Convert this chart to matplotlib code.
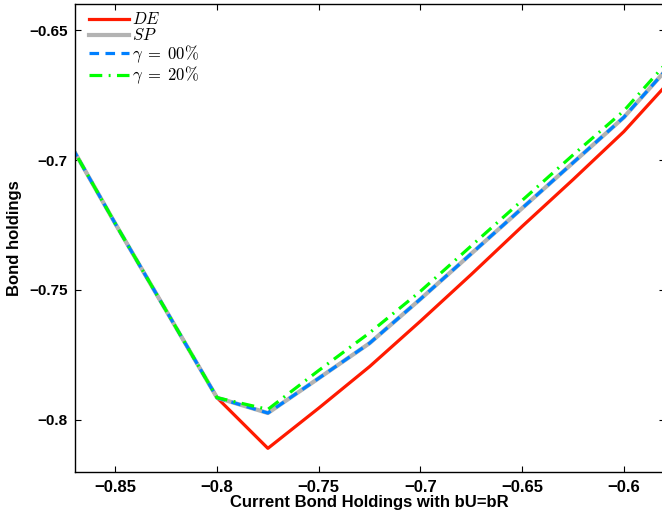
import matplotlib
matplotlib.use("Agg")
import matplotlib.pyplot as plt

plt.rcParams['font.family'] = ['Liberation Sans', 'DejaVu Sans']
plt.rcParams['mathtext.fontset'] = 'cm'

# Current bond holdings grid
x_left = [-0.875, -0.85, -0.825, -0.8]
x_right = [-0.775, -0.75, -0.725, -0.7, -0.675, -0.65, -0.625, -0.6, -0.575]

# Shared branch left of the kink
y_left = [-0.690, -0.7245, -0.758, -0.7915]

# Policy branches right of the kink
de_right = [-0.811, -0.7955, -0.7795, -0.762, -0.744, -0.7255, -0.7075, -0.689, -0.6675]
sp_right = [-0.7974, -0.784, -0.7705, -0.7535, -0.736, -0.7185, -0.701, -0.6835, -0.6615]
g00_right = [-0.7974, -0.784, -0.7705, -0.7535, -0.736, -0.7185, -0.701, -0.6835, -0.6615]
g20_right = [-0.796, -0.781, -0.7665, -0.7505, -0.733, -0.7155, -0.698, -0.681, -0.659]

labels = [r'$DE$', r'$SP$', r'$\gamma\;=\;00\%$', r'$\gamma\;=\;20\%$']
xtick_vals = [-0.85, -0.8, -0.75, -0.7, -0.65, -0.6]
ytick_vals = [-0.8, -0.75, -0.7, -0.65]

x = x_left + x_right
de = y_left + de_right
sp = y_left + sp_right
g00 = y_left + g00_right
g20 = y_left + g20_right

fig = plt.figure(figsize=(6.62, 5.12), dpi=100)
ax = fig.add_axes([0.1128, 0.0787, 0.891, 0.9127])

ax.plot(x, de, color=(1.0, 0.1, 0.0), lw=2.3, label=labels[0])
ax.plot(x, sp, color=(0.7, 0.7, 0.7), lw=3.0, label=labels[1])
ax.plot(x, g00, color=(0.0, 0.5, 1.0), lw=2.3, ls=(0, (3, 2)), label=labels[2])
ax.plot(x, g20, color=(0.0, 1.0, 0.0), lw=2.3, ls=(0, (4, 2, 0.6, 2)), label=labels[3])

def fmt(v):
    return ('%g' % v).replace('-', '\u2212')

ax.set_xlim(-0.87, -0.58)
ax.set_ylim(-0.82, -0.64)
ax.set_xticks(xtick_vals)
ax.set_xticklabels([fmt(v) for v in xtick_vals])
ax.set_yticks(ytick_vals)
ax.set_yticklabels([fmt(v) for v in ytick_vals])
ax.tick_params(direction='in', length=4, width=0.8, top=True, right=True)
ax.tick_params(axis='x', labelsize=12, pad=6)
ax.tick_params(axis='y', labelsize=11, pad=5)
for lab in ax.get_xticklabels() + ax.get_yticklabels():
    lab.set_fontweight('bold')
for s in ax.spines.values():
    s.set_linewidth(1.0)

ax.set_xlabel('Current Bond Holdings with bU=bR', fontsize=12, fontweight='bold', labelpad=0)
ax.set_ylabel('Bond holdings', fontsize=12, fontweight='bold', labelpad=5)

leg = ax.legend(loc='upper left', bbox_to_anchor=(0.005, 1.01), frameon=False,
                fontsize=12, handlelength=2.4, handletextpad=0.15,
                labelspacing=0.0, borderaxespad=0.3)

fig.savefig('out.png', dpi=100)
